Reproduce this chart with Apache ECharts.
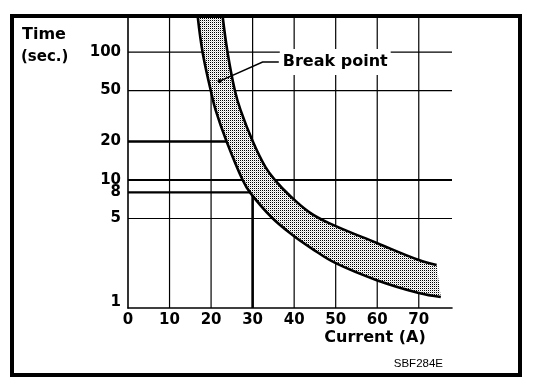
<!DOCTYPE html>
<html>
<head>
<meta charset="utf-8">
<script src="https://cdn.jsdelivr.net/npm/echarts@6/dist/echarts.min.js"></script>
<style>html,body{margin:0;padding:0;background:#fff}#c{width:560px;height:392px}</style>
</head>
<body>
<div id="c"></div>
<script>
// ---- data ----
var lowerCurrent = [16.8, 18.0, 19.9, 21.1, 23.7, 27.6, 29.5, 34.5, 39.6, 44.1, 49.9, 59.9, 70.0, 75.3];
var lowerTime    = [188, 98, 50.5, 35.2, 20.2, 10, 7.9, 5.14, 3.72, 2.94, 2.25, 1.65, 1.31, 1.22];
var upperCurrent = [22.8, 24.0, 25.7, 27.1, 30.0, 33.1, 35.4, 38.8, 43.6, 48.4, 59.9, 70.0, 74.3];
var upperTime    = [188, 98, 50.5, 35.2, 20.2, 12.6, 10, 7.64, 5.62, 4.61, 3.22, 2.37, 2.17];

var xTicks = [0, 10, 20, 30, 40, 50, 60, 70];
var yTicks = [1, 5, 8, 10, 20, 50, 100];
var currentMax = 78;
var timeMin = 1, timeMax = 188;

var verticalGrid = [10, 20, 30, 40, 50, 60, 70];
var horizontalGrid = [5, 50, 100];
var horizontalGridBold = [10];
var refTimes = [20, 8];       // reference lines drawn from 0 A to 30 A
var refCurrent = 30;          // vertical reference line from 1 s to 8 s
var refCurrentTop = 8;

var breakPointAt = [22.06, 59.3];
var breakElbow = [32.4, 83.5];
var breakLabelAt = [36.3, 83.5];
var breakLabel = 'Break point';

// ---- build grid segments ----
var gridSegs = [];
verticalGrid.forEach(function (x) { gridSegs.push([x, timeMin, x, timeMax, 1.2]); });
horizontalGrid.forEach(function (t) { gridSegs.push([0, t, currentMax, t, 1.1]); });
horizontalGridBold.forEach(function (t) { gridSegs.push([0, t, currentMax, t, 2]); });
gridSegs.push([0, refTimes[0], refCurrent, refTimes[0], 2.6]);
gridSegs.push([0, refTimes[1], refCurrent, refTimes[1], 2.2]);
gridSegs.push([refCurrent, timeMin, refCurrent, refCurrentTop, 2.6]);

// dotted fill pattern
var pc = document.createElement('canvas');
pc.width = 2; pc.height = 2;
var pctx = pc.getContext('2d');
pctx.fillStyle = '#fff'; pctx.fillRect(0, 0, 2, 2);
pctx.fillStyle = '#000'; pctx.fillRect(0, 0, 1, 1);
pctx.fillStyle = '#d4d4d4'; pctx.fillRect(1, 1, 1, 1);
var pattern = { image: pc, repeat: 'repeat' };

var FONT = 'DejaVu Sans';

var chart = echarts.init(document.getElementById('c'), null, { renderer: 'canvas' });
chart.setOption({
  animation: false,
  backgroundColor: '#fff',
  grid: { left: 128, top: 17, right: 108, bottom: 84, containLabel: false },
  xAxis: {
    type: 'value', min: 0, max: currentMax, interval: 10,
    axisLine: { show: true, onZero: false, lineStyle: { color: '#000', width: 1.6 } },
    axisTick: { show: false },
    splitLine: { show: false },
    axisLabel: {
      showMaxLabel: false, margin: 5, color: '#000',
      fontFamily: FONT, fontWeight: 'bold', fontSize: 15,
      formatter: function (v) { return xTicks.indexOf(v) >= 0 ? String(v) : ''; }
    }
  },
  yAxis: {
    type: 'log', logBase: 10, min: timeMin, max: timeMax,
    axisLine: { show: true, lineStyle: { color: '#000', width: 1.6 } },
    axisTick: { show: false },
    splitLine: { show: false },
    minorTick: { show: false }, minorSplitLine: { show: false },
    axisLabel: {
      customValues: yTicks, margin: 7, color: '#000',
      fontFamily: FONT, fontWeight: 'bold', fontSize: 15,
      formatter: function (v) { return v === 1 ? '{up|1}' : String(v); },
      rich: { up: { fontFamily: FONT, fontWeight: 'bold', fontSize: 15, color: '#000', padding: [0, 0, 12, 0] } }
    }
  },
  graphic: [
    { type: 'rect', z: 100, shape: { x: 12, y: 16, width: 508, height: 359 },
      style: { fill: 'none', stroke: '#000', lineWidth: 4 } },
    { type: 'text', z: 100, x: 22, y: 35,
      style: { text: 'Time', fontFamily: FONT, fontWeight: 'bold', fontSize: 16, fill: '#000', verticalAlign: 'middle' } },
    { type: 'text', z: 100, x: 21, y: 57,
      style: { text: '(sec.)', fontFamily: FONT, fontWeight: 'bold', fontSize: 15, fill: '#000', verticalAlign: 'middle' } },
    { type: 'text', z: 100, x: 375, y: 338,
      style: { text: 'Current (A)', fontFamily: FONT, fontWeight: 'bold', fontSize: 16, fill: '#000', align: 'center', verticalAlign: 'middle' } },
    { type: 'text', z: 100, x: 443, y: 364,
      style: { text: 'SBF284E', fontFamily: 'Liberation Sans', fontSize: 11.5, fill: '#000', align: 'right', verticalAlign: 'middle' } }
  ],
  series: [
    {
      name: 'grid', type: 'custom', z: 1, silent: true, clip: true,
      data: gridSegs,
      renderItem: function (params, api) {
        var p1 = api.coord([api.value(0), api.value(1)]);
        var p2 = api.coord([api.value(2), api.value(3)]);
        return { type: 'line', shape: { x1: p1[0], y1: p1[1], x2: p2[0], y2: p2[1] },
                 style: { stroke: '#000', lineWidth: api.value(4) } };
      }
    },
    {
      name: 'band', type: 'custom', z: 2, silent: true, clip: true,
      data: [[lowerCurrent[0], lowerTime[0]]],
      renderItem: function (params, api) {
        var pts = [];
        for (var i = 0; i < upperCurrent.length; i++) pts.push(api.coord([upperCurrent[i], upperTime[i]]));
        for (var j = lowerCurrent.length - 1; j >= 0; j--) pts.push(api.coord([lowerCurrent[j], lowerTime[j]]));
        return { type: 'polygon', shape: { points: pts }, style: { fill: pattern, stroke: null } };
      }
    },
    {
      name: 'lower', type: 'line', z: 3, smooth: 0.4, symbol: 'none', clip: true, silent: true,
      data: lowerCurrent.map(function (x, i) { return [x, lowerTime[i]]; }),
      lineStyle: { color: '#000', width: 2.6 }
    },
    {
      name: 'upper', type: 'line', z: 3, smooth: 0.4, symbol: 'none', clip: true, silent: true,
      data: upperCurrent.map(function (x, i) { return [x, upperTime[i]]; }),
      lineStyle: { color: '#000', width: 2.6 }
    },
    {
      name: 'annotation', type: 'custom', z: 5, silent: true, clip: false,
      data: [[breakLabelAt[0], breakLabelAt[1]]],
      renderItem: function (params, api) {
        var a = api.coord(breakPointAt), b = api.coord(breakElbow), c = api.coord(breakLabelAt);
        return { type: 'group', children: [
          { type: 'text', x: c[0] + 1, y: c[1],
            style: { text: breakLabel, fontFamily: FONT, fontWeight: 'bold', fontSize: 16, fill: '#000',
                     verticalAlign: 'middle', backgroundColor: '#fff', padding: [5, 3, 5, 3] } },
          { type: 'polyline', shape: { points: [a, b, c] }, style: { stroke: '#000', lineWidth: 1.5, fill: null } },
          { type: 'circle', shape: { cx: a[0], cy: a[1], r: 2.2 }, style: { fill: '#000' } }
        ] };
      }
    }
  ]
});
</script>
</body>
</html>
